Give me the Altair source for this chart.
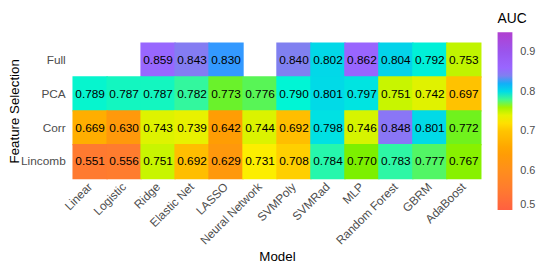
import altair as alt
import pandas as pd

models = ["Linear", "Logistic", "Ridge", "Elastic Net", "LASSO", "Neural Network",
          "SVMPoly", "SVMRad", "MLP", "Random Forest", "GBRM", "AdaBoost"]
selections = ["Full", "PCA", "Corr", "Lincomb"]

full = [None, None, 0.859, 0.843, 0.830, None, 0.840, 0.802, 0.862, 0.804, 0.792, 0.753]
pca = [0.789, 0.787, 0.787, 0.782, 0.773, 0.776, 0.790, 0.801, 0.797, 0.751, 0.742, 0.697]
corr = [0.669, 0.630, 0.743, 0.739, 0.642, 0.744, 0.692, 0.798, 0.746, 0.848, 0.801, 0.772]
lincomb = [0.551, 0.556, 0.751, 0.692, 0.629, 0.731, 0.708, 0.784, 0.770, 0.783, 0.777, 0.767]

legend_values = [0.5, 0.6, 0.7, 0.8, 0.9]
color_stops = [0.50, 0.55, 0.60, 0.65, 0.70, 0.73, 0.75, 0.77, 0.78, 0.79, 0.80, 0.82, 0.83, 0.84, 0.86, 0.90, 0.95]
color_range = ["#FF6040", "#FF7A30", "#FF8E1C", "#FFA000", "#FFC400", "#FFEE00", "#CCF500",
               "#7CF000", "#40F890", "#00F5D5", "#00DCE6", "#10B0F8", "#3399FF", "#8080F0",
               "#9966FF", "#9A55EE", "#B040D0"]

rows = []
for sel, vals in zip(selections, [full, pca, corr, lincomb]):
    for m, v in zip(models, vals):
        if v is not None:
            rows.append({"Model": m, "Feature Selection": sel, "AUC": v})
df = pd.DataFrame(rows)

FONT = "Liberation Sans"
W, H = 413, 137

base = alt.Chart(df)

color_scale = alt.Scale(domain=color_stops, range=color_range, interpolate="rgb")

rect = base.mark_rect(width=alt.RelativeBandSize(1.04),
                      height=alt.RelativeBandSize(1.04)).encode(
    x=alt.X("Model:N", sort=models, scale=alt.Scale(paddingInner=0, paddingOuter=0),
            axis=alt.Axis(labelAngle=-45, labelAlign="right", labelBaseline="middle",
                          labelPadding=6, labelFontSize=12, labelColor="#4D4D4D",
                          domain=False, ticks=False, grid=False,
                          title="Model", titleFontSize=13.5, titleFontWeight="normal",
                          titleColor="black", titleX=W / 2, titleY=79,
                          titleBaseline="middle", titleAlign="center")),
    y=alt.Y("Feature Selection:N", sort=selections,
            scale=alt.Scale(paddingInner=0, paddingOuter=0),
            axis=alt.Axis(labelPadding=8, labelFontSize=12, labelColor="#4D4D4D",
                          domain=False, ticks=False, grid=False,
                          title="Feature Selection", titleFontSize=13.5,
                          titleFontWeight="normal", titleColor="black",
                          titleAngle=-90, titleX=-59, titleY=H / 2,
                          titleBaseline="middle", titleAlign="center")),
    color=alt.Color("AUC:Q", scale=color_scale,
                    legend=alt.Legend(orient="none", legendX=430, legendY=-31,
                                      direction="vertical", gradientLength=180,
                                      gradientThickness=15, gradientStrokeWidth=0,
                                      values=legend_values, format=".1f",
                                      titleFontSize=14, titleFontWeight="normal",
                                      titleColor="black", titlePadding=6,
                                      labelFontSize=11, labelColor="#4D4D4D",
                                      labelOffset=8, labelBaseline="middle")),
)

text = base.mark_text(fontSize=12, color="black", font=FONT).encode(
    x=alt.X("Model:N", sort=models),
    y=alt.Y("Feature Selection:N", sort=selections),
    text=alt.Text("AUC:Q", format=".3f"),
)

chart = (rect + text).properties(
    width=W, height=H,
    autosize=alt.AutoSizeParams(type="none"),
    padding={"left": 66, "top": 34, "right": 62, "bottom": 86},
).configure(font=FONT).configure_view(stroke=None)

chart.save("out.html", embed_options={"renderer": "svg", "actions": False})
